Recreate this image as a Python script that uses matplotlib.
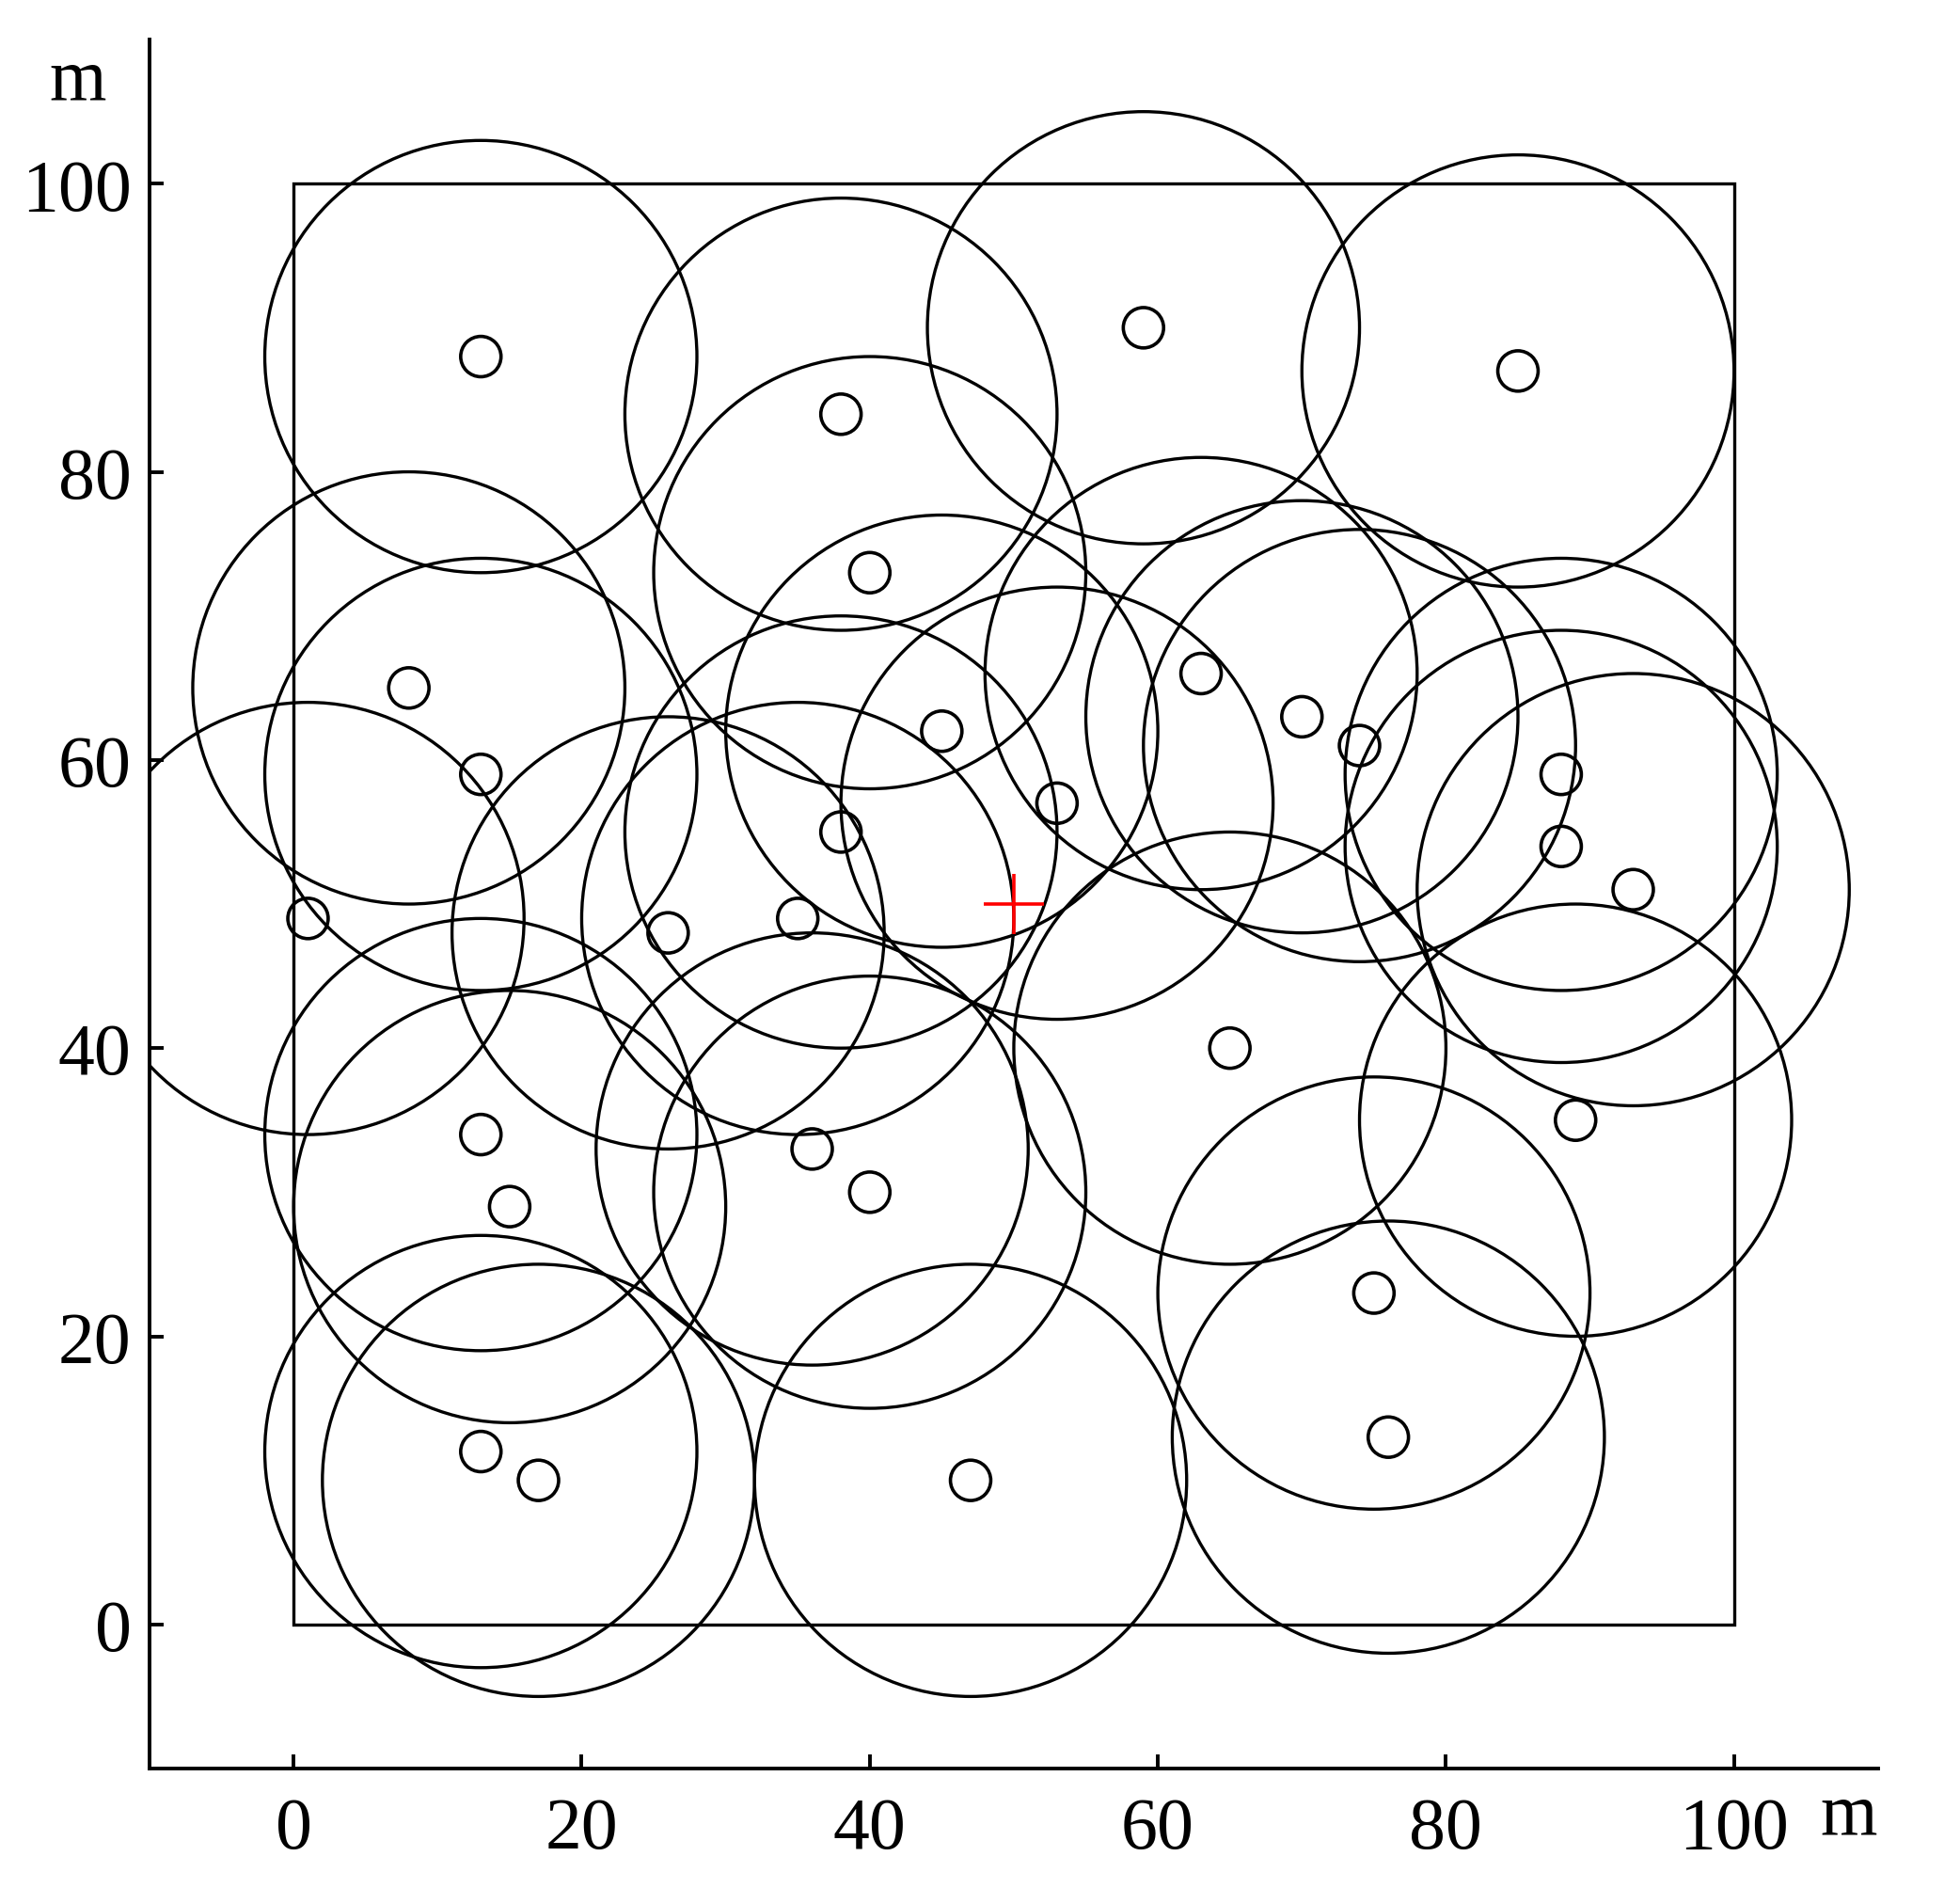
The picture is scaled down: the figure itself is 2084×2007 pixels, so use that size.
import matplotlib
matplotlib.use("Agg")
import matplotlib.pyplot as plt
from matplotlib.patches import Circle, Rectangle

plt.rcParams["font.family"] = ["Liberation Serif", "DejaVu Serif"]

# sensor node positions (m)
node_x = [13, 38, 59, 85, 40, 8, 13, 45, 63, 70, 74, 53, 38, 88, 88,
          93, 1, 26, 35, 65, 89, 13, 15, 36, 40, 75, 13, 17, 47, 76]
node_y = [88, 84, 90, 87, 73, 65, 59, 62, 66, 63, 61, 57, 55, 59, 54,
          51, 49, 48, 49, 40, 35, 34, 29, 33, 30, 23, 12, 10, 10, 13]
sense_radius = 15
node_radius = 1.4
area_size = 100
sink = (50, 50)

xticks = [0, 20, 40, 60, 80, 100]
yticks = [0, 20, 40, 60, 80, 100]

fig = plt.figure(figsize=(20.84, 20.08), dpi=100)
ax = fig.add_axes([0.0763, 0.0632, 0.8819, 0.9154])

ax.add_patch(Rectangle((0, 0), area_size, area_size, fill=False,
                       edgecolor="black", linewidth=2.4))
for x, y in zip(node_x, node_y):
    ax.add_patch(Circle((x, y), sense_radius, fill=False,
                        edgecolor="black", linewidth=2.4))
    ax.add_patch(Circle((x, y), node_radius, fill=False,
                        edgecolor="black", linewidth=2.6))

ax.plot([sink[0]], [sink[1]], marker="+", color="red",
        markersize=46, markeredgewidth=2.6, linestyle="none")

ax.set_xlim(-10, 110)
ax.set_ylim(-10, 110)
ax.set_aspect("equal")
ax.set_xticks(xticks)
ax.set_yticks(yticks)
ax.spines["top"].set_visible(False)
ax.spines["right"].set_visible(False)
for s in ["left", "bottom"]:
    ax.spines[s].set_linewidth(2.8)
ax.tick_params(direction="in", length=11, width=2.8, labelsize=56)
ax.tick_params(axis="x", pad=21)
ax.tick_params(axis="y", pad=14)

fig.text(0.0398, 0.9477, "m", fontsize=56, ha="center", va="baseline")
fig.text(0.943, 0.0289, "m", fontsize=56, ha="center", va="baseline")

fig.savefig("out.png", dpi=100)
